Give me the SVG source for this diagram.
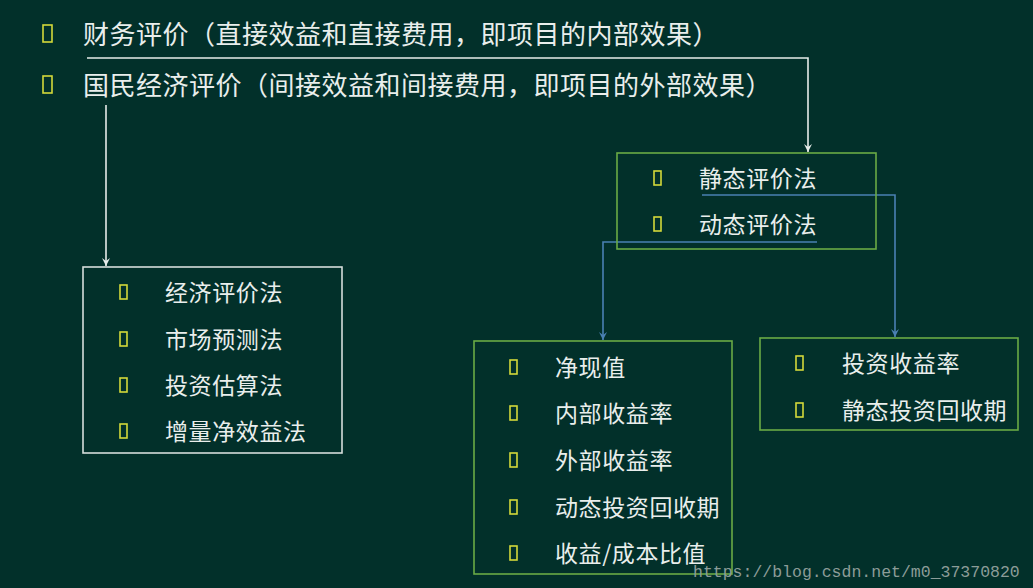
<svg xmlns="http://www.w3.org/2000/svg" width="1033" height="588" viewBox="0 0 1033 588">
<defs>
<style>
.t{font-family:"Noto Sans CJK SC","Noto Sans",sans-serif;fill:#e9eeec}
.h{font-size:26px;letter-spacing:0.5px}
.i{font-size:23px;letter-spacing:0.6px}
.b{fill:none;stroke:#d4d93a;stroke-width:1.6}
.gb{fill:none;stroke:#6aab45;stroke-width:1.6}
.wb{fill:none;stroke:#d6dedb;stroke-width:1.6}
.wl{fill:none;stroke:#e6ebe9;stroke-width:1.6}
.bl{fill:none;stroke:#4a80b3;stroke-width:1.6}
.wm{font-family:"Liberation Mono",monospace;font-size:16.5px;fill:#8c9c98}
</style>
<marker id="aw" markerWidth="10" markerHeight="10" refX="9" refY="5" orient="auto" markerUnits="userSpaceOnUse" viewBox="0 0 10 10">
<path d="M1,1 L9,5 L1,9 L4,5 Z" fill="#e6ebe9"/>
</marker>
<marker id="ab" markerWidth="10" markerHeight="10" refX="9" refY="5" orient="auto" markerUnits="userSpaceOnUse" viewBox="0 0 10 10">
<path d="M1,1 L9,5 L1,9 L4,5 Z" fill="#4a80b3"/>
</marker>
</defs>
<rect width="1033" height="588" fill="#02302a"/>

<g id="titles">
<rect class="b" x="43" y="25" width="9" height="17"/>
<text class="t h" x="83" y="44">财务评价（直接效益和直接费用，即项目的内部效果）</text>
<rect class="b" x="43" y="76" width="9" height="17"/>
<text class="t h" x="83" y="95">国民经济评价（间接效益和间接费用，即项目的外部效果）</text>
</g>

<g id="connectors">
<path class="wl" d="M87,58 H808 V152" marker-end="url(#aw)"/>
<path class="wl" d="M106,105 V266" marker-end="url(#aw)"/>
<path class="bl" d="M702,195 H895 V337" marker-end="url(#ab)"/>
<path class="bl" d="M817,242 H603 V340" marker-end="url(#ab)"/>
</g>

<g id="box-national">
<rect class="wb" x="83" y="267" width="259" height="186"/>
<rect class="b" x="120" y="285" width="7" height="14"/>
<text class="t i" x="165" y="301">经济评价法</text>
<rect class="b" x="120" y="332" width="7" height="14"/>
<text class="t i" x="165" y="348">市场预测法</text>
<rect class="b" x="120" y="378" width="7" height="14"/>
<text class="t i" x="165" y="394">投资估算法</text>
<rect class="b" x="120" y="424" width="7" height="14"/>
<text class="t i" x="165" y="440">增量净效益法</text>
</g>

<g id="box-methods">
<rect class="gb" x="617" y="153" width="259" height="96"/>
<rect class="b" x="654" y="171" width="7" height="14"/>
<text class="t i" x="699" y="187">静态评价法</text>
<rect class="b" x="654" y="217" width="7" height="14"/>
<text class="t i" x="699" y="233">动态评价法</text>
</g>

<g id="box-dynamic">
<rect class="gb" x="474" y="341" width="258" height="233"/>
<rect class="b" x="510" y="360" width="7" height="14"/>
<text class="t i" x="555" y="376">净现值</text>
<rect class="b" x="510" y="406" width="7" height="14"/>
<text class="t i" x="555" y="422">内部收益率</text>
<rect class="b" x="510" y="453" width="7" height="14"/>
<text class="t i" x="555" y="469">外部收益率</text>
<rect class="b" x="510" y="500" width="7" height="14"/>
<text class="t i" x="555" y="516">动态投资回收期</text>
<rect class="b" x="510" y="546" width="7" height="14"/>
<text class="t i" x="555" y="562">收益/成本比值</text>
</g>

<g id="box-static">
<rect class="gb" x="760" y="338" width="258" height="92"/>
<rect class="b" x="796" y="356" width="7" height="14"/>
<text class="t i" x="842" y="372">投资收益率</text>
<rect class="b" x="796" y="403" width="7" height="14"/>
<text class="t i" x="842" y="419">静态投资回收期</text>
</g>

<text class="wm" x="693" y="577">https://blog.csdn.net/m0_37370820</text>
</svg>
